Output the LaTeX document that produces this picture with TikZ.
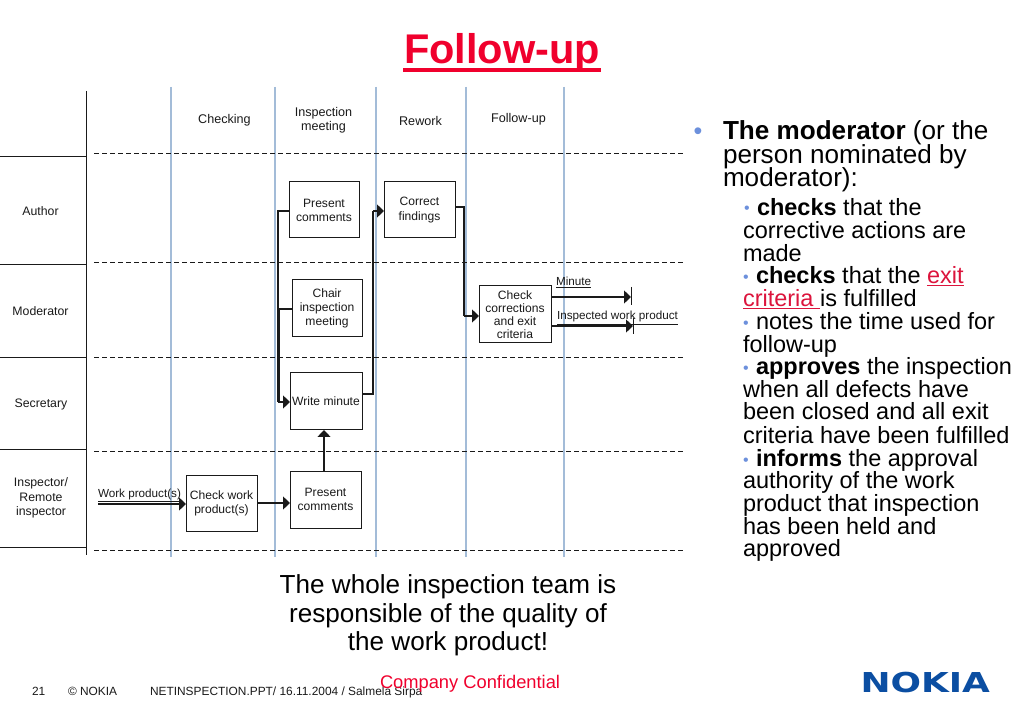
\documentclass[tikz,border=0pt]{standalone}
\usepackage{fontspec}
\usepackage{graphicx}
\setmainfont{Liberation Sans}
\usetikzlibrary{arrows.meta}
\definecolor{swim}{HTML}{A3BCD8}
\definecolor{nokred}{HTML}{F0002D}
\definecolor{linkred}{HTML}{DC143C}
\definecolor{nokblue}{HTML}{0B4EA2}
\definecolor{bulblue}{HTML}{6C90DC}
\definecolor{ink}{HTML}{1A1A1A}
\newcommand{\sz}[1]{\fontsize{#1}{#1}\selectfont}
\tikzset{
  x=1pt,y=-1pt,
  every node/.style={inner sep=0pt,outer sep=0pt},
  boxn/.style={draw=ink,line width=1pt,fill=white,align=center,font=\sz{12.1},text=ink,minimum width=#1},
  head/.style={align=center,font=\sz{12.6},text=ink},
  role/.style={align=center,font=\sz{12.3},text=ink},
  flowlab/.style={anchor=base west,font=\sz{11.7},text=ink},
  swimline/.style={draw=swim,line width=1.2pt},
  rowline/.style={draw=ink,line width=1pt},
  rowdash/.style={draw=ink,line width=1pt,dash pattern=on 4.5pt off 3.5pt},
  conn/.style={draw=ink,line width=1.3pt},
  arr/.style={conn,-{Triangle[length=7pt,width=13pt]}},
  mainl/.style={anchor=base west,font=\sz{26.1}},
  subl/.style={anchor=base west,font=\sz{23.5}},
  noteline/.style={anchor=base,font=\sz{26.1},text=black},
  foot/.style={anchor=base west,font=\sz{11.9},text=ink},
  bull/.style={anchor=base,text=bulblue},
}
\begin{document}
\begin{tikzpicture}
\useasboundingbox (0,0) rectangle (1023,708);
\fill[white] (0,0) rectangle (1023,708);
% title
\node[anchor=base,font=\sz{41.5}\bfseries,text=nokred] (title) at (502,64) {Follow-up};
\coordinate (ula) at (403,70.3); \coordinate (ulb) at (601,70.3);
\draw[draw=nokred,line width=3.6pt] (ula) -- (ulb);
% swimlane verticals
\foreach \n/\x in {a/171,b/275,c/376,d/466,e/564}{
  \coordinate (sw\n t) at (\x,87);
  \coordinate (sw\n b) at (\x,557);
  \draw[swimline] (sw\n t) -- (sw\n b);
}
\coordinate (axt) at (86,91); \coordinate (axb) at (86,555);
\draw[rowline] (axt) -- (axb);
% row lines
\foreach \n/\a/\b in {p/157/154,q/265/263,r/358/358,s/450/452,t/547/550}{
  \coordinate (\n l) at (0,\a); \coordinate (\n m) at (86,\a);
  \coordinate (\n d) at (94,\b); \coordinate (\n e) at (685,\b);
  \draw[rowline] (\n l) -- (\n m);
  \draw[rowdash] (\n d) -- (\n e);
}
% headers
\node[head] (hchk) at (224.5,120) {Checking};
\node[head] (hins) at (323.5,120) {Inspection\\[1pt]meeting};
\node[head] (hrew) at (420.5,121) {Rework};
\node[head] (hfol) at (518.5,119) {Follow-up};
% roles
\node[role] (rau) at (40.5,211) {Author};
\node[role] (rmo) at (40.5,311) {Moderator};
\node[role] (rse) at (41,404) {Secretary};
\node[role] (rin) at (41,498) {Inspector/\\[2pt]Remote\\[2pt]inspector};
% boxes
\node[boxn=70pt,minimum height=56pt] (pc1) at (324,210) {Present\\[2pt]comments};
\node[boxn=70pt,minimum height=57pt] (chair) at (327,308.5) {Chair\\[2pt]inspection\\[2pt]meeting};
\node[boxn=72pt,minimum height=57pt] (wm) at (326,401.5) {Write minute};
\node[boxn=71pt,minimum height=57pt] (pc2) at (325.5,499.5) {Present\\[2pt]comments};
\node[boxn=71pt,minimum height=56pt] (cw) at (221.5,503) {Check work\\[2pt]product(s)};
\node[boxn=71pt,minimum height=56pt] (cf) at (419.5,210) {Correct\\[2pt]findings};
\node[boxn=72pt,minimum height=57pt] (cc) at (515,314.5) {Check\\[1pt]corrections\\[1pt]and exit\\[1pt]criteria};
% connectors
\draw[conn] (pc1.west |- 0,211) -- (278,211) -- (278,402);
\draw[conn] (chair.west |- 0,309) -- (279,309) -- (279,402);
\draw[arr] (278,402) -- (wm.west |- 0,402);
\draw[conn] (wm.east |- 0,394) -- (373,394) -- (373,211);
\draw[arr] (373,211) -- (cf.west |- 0,211);
\draw[conn] (cf.east |- 0,207) -- (464,207) -- (464,316);
\draw[arr] (464,316) -- (cc.west |- 0,316);
\draw[arr] (pc2.north -| 324,0) -- (wm.south -| 324,0);
\draw[arr] (cw.east |- 0,503) -- (pc2.west |- 0,503);
\coordinate (wpin) at (98,504);
\draw[arr] (wpin) -- (cw.west |- wpin);
\coordinate (outa) at (631,297);
\coordinate (outb) at (633,326);
\draw[arr] (cc.east |- outa) -- (outa);
\draw[arr] (cc.east |- outb) -- (outb);
\coordinate (bara) at (631,287); \coordinate (baraz) at (631,305);
\coordinate (barb) at (633,318); \coordinate (barbz) at (633,334);
\draw[conn,line width=1pt] (bara) -- (baraz);
\draw[conn,line width=1pt] (barb) -- (barbz);
% flow labels
\node[flowlab] (lwp) at (98,497) {\underline{Work product(s)}};
\node[flowlab] (lmi) at (556,286) {\underline{Minute}};
\node[flowlab] (lip) at (557,320) {\underline{Inspected work product}};
% bottom note
\node[noteline] (n1) at (448,593) {The whole inspection team is};
\node[noteline] (n2) at (448,622) {responsible of the quality of};
\node[noteline] (n3) at (448,650) {the work product!};
% right text
\node[bull,font=\sz{25}] (b0) at (698,140) {•};
\node[mainl] (t1) at (723,140) {\textbf{The moderator} (or the};
\node[mainl] (t2) at (723,164) {person nominated by};
\node[mainl] (t3) at (723,187) {moderator):};
\node[bull,font=\sz{16}] (b1) at (747,214) {•};
\node[subl] (s1) at (757,216) {\textbf{checks} that the};
\node[subl] (s2) at (743,239) {corrective actions are};
\node[subl] (s3) at (743,262) {made};
\node[bull,font=\sz{16}] (b2) at (746,283) {•};
\node[subl] (s4) at (756,284) {\textbf{checks} that the \textcolor{linkred}{\underline{exit}}};
\node[subl] (s5) at (743,307) {\textcolor{linkred}{\underline{criteria\ }}is fulfilled};
\node[bull,font=\sz{16}] (b3) at (746,329) {•};
\node[subl] (s6) at (756,330) {notes the time used for};
\node[subl] (s7) at (743,353) {follow-up};
\node[bull,font=\sz{16}] (b4) at (746,374) {•};
\node[subl] (s8) at (756,375) {\textbf{approves} the inspection};
\node[subl] (s9) at (743,398) {when all defects have};
\node[subl] (s10) at (743,420) {been closed and all exit};
\node[subl] (s11) at (743,443) {criteria have been fulfilled};
\node[bull,font=\sz{16}] (b5) at (746,465) {•};
\node[subl] (s12) at (756,466) {\textbf{informs} the approval};
\node[subl] (s13) at (743,488) {authority of the work};
\node[subl] (s14) at (743,511) {product that inspection};
\node[subl] (s15) at (743,534) {has been held and};
\node[subl] (s16) at (743,556) {approved};
% footer
\node[foot] (f1) at (32,695) {21};
\node[foot] (f2) at (68,695) {© NOKIA};
\node[foot] (f3) at (150,695) {NETINSPECTION.PPT/ 16.11.2004 / Salmela Sirpa};
\node[anchor=base west,font=\sz{18.3},text=nokred] (f4) at (380,688) {Company Confidential};
\node[anchor=base west,text=nokblue,font=\fontspec{DejaVu Sans}\bfseries\sz{27.4}] (logo) at (860.5,692) {\scalebox{1.31}[1.0]{NOKIA}};
\end{tikzpicture}
\end{document}
